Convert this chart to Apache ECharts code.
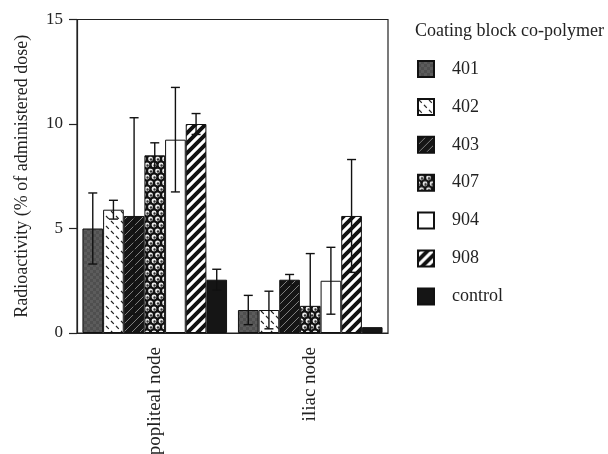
<!DOCTYPE html>
<html><head><meta charset="utf-8">
<script src="https://cdn.jsdelivr.net/npm/echarts@6/dist/echarts.min.js"></script>
<style>html,body{margin:0;padding:0;background:#fff}#c{width:608px;height:454px}</style>
</head><body><div id="c"></div>
<script>
const categories = ['popliteal node', 'iliac node'];
const seriesNames = ['401', '402', '403', '407', '904', '908', 'control'];
const values401 = [5.0, 1.1];
const values402 = [5.9, 1.1];
const values403 = [5.6, 2.55];
const values407 = [8.5, 1.3];
const values904 = [9.25, 2.5];
const values908 = [10.0, 5.6];
const valuesControl = [2.55, 0.28];
const err401 = [1.7, 0.7];
const err402 = [0.45, 0.9];
const err403 = [4.7, 0.25];
const err407 = [0.6, 2.5];
const err904 = [2.5, 1.6];
const err908 = [0.5, 2.7];
const errControl = [0.5, 0];
const yTicks = [0, 5, 10, 15];

const allValues = [values401, values402, values403, values407, values904, values908, valuesControl];
const allErrs = [err401, err402, err403, err407, err904, err908, errControl];

function tile(w, h, draw) {
  const c = document.createElement('canvas');
  c.width = w; c.height = h;
  const ctx = c.getContext('2d');
  draw(ctx, w, h);
  return { image: c, repeat: 'repeat' };
}
function diag(ctx, s, lw, col) {
  ctx.strokeStyle = col; ctx.lineWidth = lw; ctx.lineCap = 'square';
  ctx.beginPath();
  ctx.moveTo(0, s); ctx.lineTo(s, 0);
  ctx.moveTo(-s / 2, s / 2); ctx.lineTo(s / 2, -s / 2);
  ctx.moveTo(s / 2, s * 1.5); ctx.lineTo(s * 1.5, s / 2);
  ctx.stroke();
}
function ball(ctx, x, y) {
  ctx.fillStyle = '#eeeeee';
  ctx.beginPath(); ctx.arc(x, y, 2.4, 0, Math.PI * 2); ctx.fill();
  ctx.fillStyle = '#333';
  ctx.beginPath(); ctx.arc(x + 0.5, y + 0.5, 1.2, 0, Math.PI * 2); ctx.fill();
}
const fills = [
  tile(6, 6, (ctx, w, h) => { ctx.fillStyle = '#4f4f4f'; ctx.fillRect(0, 0, w, h); ctx.fillStyle = '#5c5c5c'; ctx.fillRect(0, 0, 3, 3); ctx.fillRect(3, 3, 3, 3); }),
  tile(10, 10, (ctx, w, h) => {
    ctx.fillStyle = '#fff'; ctx.fillRect(0, 0, w, h);
    ctx.strokeStyle = '#222'; ctx.lineWidth = 1.2;
    ctx.beginPath(); ctx.moveTo(1, 1); ctx.lineTo(3.8, 3.8); ctx.moveTo(6, 6); ctx.lineTo(8.8, 8.8); ctx.stroke();
  }),
  tile(8, 8, (ctx, w, h) => { ctx.fillStyle = '#151515'; ctx.fillRect(0, 0, w, h); diag(ctx, 8, 0.8, '#9a9a9a'); }),
  tile(7, 12, (ctx, w, h) => {
    ctx.fillStyle = '#111'; ctx.fillRect(0, 0, w, h);
    ball(ctx, 3.5, 3); ball(ctx, 0, 9); ball(ctx, 7, 9);
  }),
  '#ffffff',
  tile(10, 10, (ctx, w, h) => { ctx.fillStyle = '#fff'; ctx.fillRect(0, 0, w, h); diag(ctx, 10, 3.9, '#111'); }),
  '#151515'
];

const gapRatio = 0.07;
const barSeries = seriesNames.map((n, i) => ({
  name: n, type: 'bar', data: allValues[i],
  barGap: '0%', barCategoryGap: '7%',
  itemStyle: { color: fills[i], borderColor: '#111', borderWidth: 1 },
  emphasis: { disabled: true }, animation: false
}));

const errData = [];
allValues.forEach((vals, si) => vals.forEach((v, ci) => errData.push([ci, si, v, allErrs[si][ci]])));

const errSeries = {
  type: 'custom', name: 'err', data: errData, encode: { x: 0, y: 2 }, z: 10, animation: false, silent: true,
  renderItem(params, api) {
    const ci = api.value(0), si = api.value(1), v = api.value(2), e = api.value(3);
    if (!e) return null;
    const band = api.size([1, 0])[0];
    const gw = band * (1 - gapRatio);
    const bw = gw / seriesNames.length;
    const cx = api.coord([ci, 0])[0] - gw / 2 + (si + 0.5) * bw;
    const yt = api.coord([ci, v + e])[1];
    const yb = api.coord([ci, Math.max(0, v - e)])[1];
    const cap = 4.5;
    const st = { stroke: '#111', lineWidth: 1.4 };
    return { type: 'group', children: [
      { type: 'line', shape: { x1: cx, y1: yt, x2: cx, y2: yb }, style: st },
      { type: 'line', shape: { x1: cx - cap, y1: yt, x2: cx + cap, y2: yt }, style: st },
      { type: 'line', shape: { x1: cx - cap, y1: yb, x2: cx + cap, y2: yb }, style: st }
    ] };
  }
};

const font = 'Liberation Serif';
const chart = echarts.init(document.getElementById('c'), null, { renderer: 'canvas' });
chart.setOption({
  animation: false,
  backgroundColor: '#fff',
  textStyle: { fontFamily: font, color: '#222' },
  title: { text: 'Coating block co-polymer', left: 410, top: 17, textStyle: { fontFamily: font, fontSize: 18, fontWeight: 'normal', color: '#222' } },
  legend: {
    data: seriesNames, orient: 'vertical', left: 412, top: 55,
    itemWidth: 16, itemHeight: 16, itemGap: 19.9, icon: 'rect',
    textStyle: { fontFamily: font, fontSize: 18, color: '#222', padding: [0, 0, 0, 13] },
    selectedMode: false
  },
  grid: { left: 77, right: 220, top: 19.5, bottom: 121, show: true, borderColor: '#222', borderWidth: 1.2, backgroundColor: 'transparent', outerBoundsMode: 'none', containLabel: false },
  xAxis: {
    type: 'category', data: categories,
    axisLine: { lineStyle: { color: '#222', width: 1.2 } },
    axisTick: { alignWithLabel: true, length: 8, lineStyle: { color: '#222', width: 1.2 } },
    axisLabel: { rotate: 90, margin: 14, fontFamily: font, fontSize: 19, color: '#222' }
  },
  yAxis: {
    type: 'value', min: yTicks[0], max: yTicks[yTicks.length - 1], interval: 5,
    name: 'Radioactivity (% of administered dose)', nameLocation: 'middle', nameGap: 46,
    nameTextStyle: { fontFamily: font, fontSize: 18, color: '#222' },
    axisLine: { show: true, lineStyle: { color: '#222', width: 1.2 } },
    axisTick: { show: true, length: 8, lineStyle: { color: '#222', width: 1.2 } },
    axisLabel: { margin: 14, fontFamily: font, fontSize: 17, color: '#222' },
    splitLine: { show: false }
  },
  series: [...barSeries, errSeries]
});
</script></body></html>
